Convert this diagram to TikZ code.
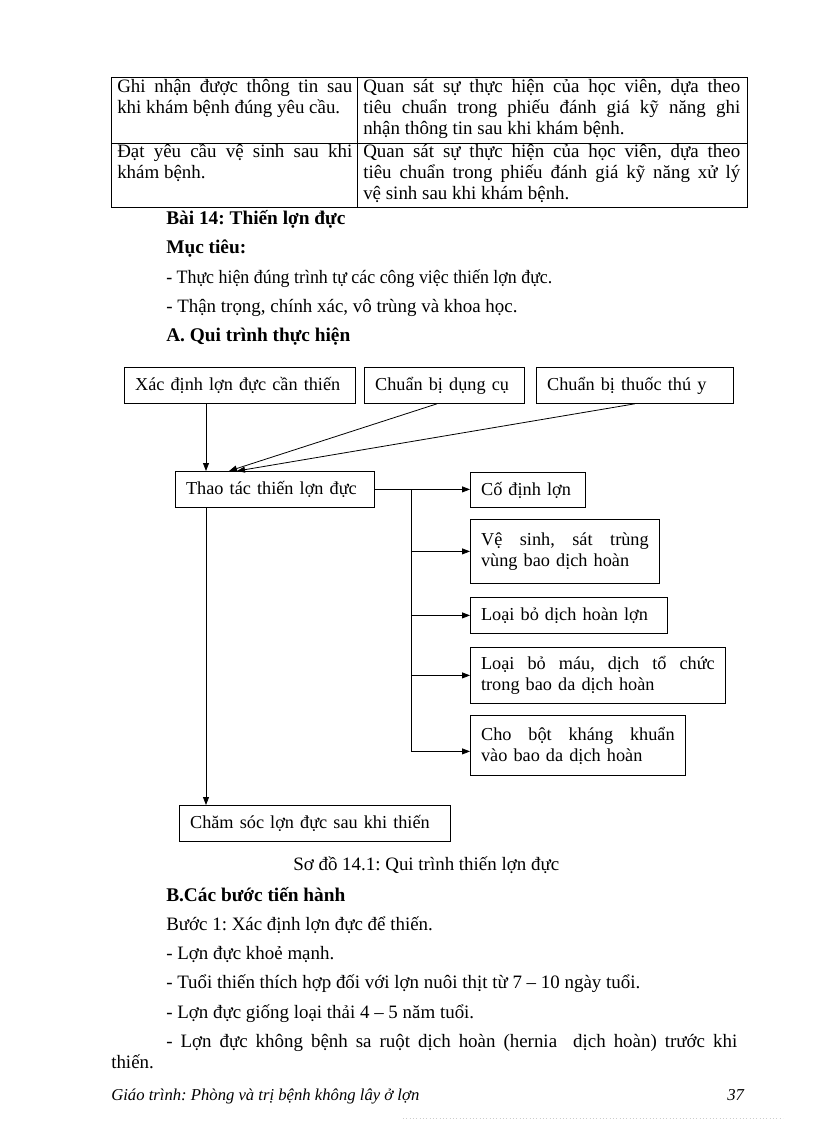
\documentclass[tikz,border=0pt]{standalone}
\usepackage{fontspec}
\setmainfont{Liberation Serif}
\usetikzlibrary{arrows.meta,calc}
\newcommand\bodyfs{\fontsize{14.2}{15.75}\selectfont}
\newcommand\boxfs{\fontsize{13.7}{15.75}\selectfont}
\newcommand\headfs{\fontsize{14.5}{15.75}\selectfont\bfseries}
\newcommand\footfs{\fontsize{12.5}{15}\selectfont\itshape}
\newcommand\jl[2]{\makebox[#1][s]{\spaceskip=\fontdimen2\font plus 1fil\relax\xspaceskip=0pt\relax #2}}
\frenchspacing
\begin{document}
\begin{tikzpicture}[x=0.75pt,y=-0.75pt,
  every node/.style={inner sep=0pt, font=\bodyfs},
  txt/.style={anchor=base west, inner sep=0pt},
  head/.style={txt, font=\headfs},
  box/.style={draw, line width=0.6pt, inner xsep=8pt, inner ysep=0pt, anchor=north west, align=left, font=\boxfs},
  wh/.style 2 args={minimum width=#1*0.75pt, minimum height=#2*0.75pt, text width=#1*0.75pt-16pt},
  arr/.style={-{Triangle[length=6pt,width=4.5pt]}, line width=0.6pt},
  ln/.style={line width=0.6pt}]
\useasboundingbox (0,0) rectangle (816,1123);
% ---------- table ----------
\draw[ln] (111,77) rectangle (747,207);
\draw[ln] (111,143) -- (747,143);
\draw[ln] (357,77) -- (357,207);
\node[txt] (ta1) at (117,93) {\jl{176.25pt}{Ghi nhận được thông tin sau}};
\node[txt] (ta2) at (117,114) {khi khám bệnh đúng yêu cầu.};
\node[txt] (tb1) at (363,93) {\jl{282.75pt}{Quan sát sự thực hiện của học viên, dựa theo}};
\node[txt] (tb2) at (363,114) {\jl{282.75pt}{tiêu chuẩn trong phiếu đánh giá kỹ năng ghi}};
\node[txt] (tb3) at (363,135) {nhận thông tin sau khi khám bệnh.};
\node[txt] (tc1) at (117,158) {\jl{176.25pt}{Đạt yêu cầu vệ sinh sau khi}};
\node[txt] (tc2) at (117,179) {khám bệnh.};
\node[txt] (td1) at (363,158) {\jl{282.75pt}{Quan sát sự thực hiện của học viên, dựa theo}};
\node[txt] (td2) at (363,179) {\jl{282.75pt}{tiêu chuẩn trong phiếu đánh giá kỹ năng xử lý}};
\node[txt] (td3) at (363,200) {vệ sinh sau khi khám bệnh.};
% ---------- headings ----------
\node[head] (h1) at (166,224) {Bài 14: Thiến lợn đực};
\node[head] (h2) at (166,253) {Mục tiêu:};
\node[txt] (p1) at (166,283) {\resizebox{289.5pt}{\height}{- Thực hiện\ đúng trình tự các công việc thiến\ lợn\ đực.}};
\node[txt] (p2) at (166,312) {- Thận trọng, chính xác, vô trùng và khoa học.};
\node[head] (h3) at (166,341) {A. Qui trình thực hiện};
% ---------- diagram ----------
\node[box, wh={231}{36}] (b1) at (124,367) {Xác định lợn đực cần thiến};
\node[box, wh={160}{36}] (b2) at (364,367) {Chuẩn bị dụng cụ};
\node[box, wh={197}{36}] (b3) at (536,367) {Chuẩn bị thuốc thú y};
\node[box, wh={199}{36}] (thao) at (175,471) {Thao tác thiến lợn đực};
\node[box, wh={115}{35}] (cd) at (470,472) {Cố định lợn};
\node[box, wh={189}{64}] (vs) at (470,519) {\jl{125.75pt}{Vệ sinh, sát trùng}\\vùng bao dịch hoàn\\[6pt]};
\node[box, wh={197}{36}] (ld) at (470,597) {Loại bỏ dịch hoàn lợn};
\node[box, wh={255}{56}] (lm) at (470,647) {\jl{175.25pt}{Loại bỏ máu, dịch tổ chức}\\trong bao da dịch hoàn};
\node[box, wh={215}{60}] (cb) at (470,715) {\jl{145.25pt}{Cho bột kháng khuẩn}\\vào bao da dịch hoàn};
\node[box, wh={271}{36}] (care) at (179,805) {Chăm sóc lợn đực sau khi thiến};
% connectors
\coordinate (s1) at ($(b1.south west)+(82,0)$);
\coordinate (s2) at ($(b2.south west)+(73,0)$);
\coordinate (e2) at ($(thao.north west)+(54,0)$);
\coordinate (e3) at ($(thao.north west)+(62,0)$);
\draw[arr] (s1) -- (s1 |- thao.north);
\draw[arr] (s2) -- (e2);
\draw[arr] (b3.south) -- (e3);
\draw[arr] (thao.east) -- (thao.east -| cd.west);
\coordinate (jn) at ($(thao.east)!0.38!(thao.east -| cd.west)$);
\coordinate (cbin) at ($(cb.west)+(0,6)$);
\draw[ln] (jn) -- (jn |- cbin);
\draw[arr] (jn |- vs.west) -- (vs.west);
\draw[arr] (jn |- ld.west) -- (ld.west);
\draw[arr] (jn |- lm.west) -- (lm.west);
\draw[arr] (jn |- cbin) -- (cbin);
\coordinate (s4) at ($(thao.south west)+(31,0)$);
\draw[arr] (s4) -- (s4 |- care.north);
% ---------- caption and text ----------
\node[txt] (cap) at (293,870) {Sơ đồ 14.1: Qui trình thiến lợn đực};
\node[head] (h4) at (166,901) {B.Các bước tiến hành};
\node[txt] (q1) at (166,930) {Bước 1: Xác định lợn đực để thiến.};
\node[txt] (q2) at (166,959) {- Lợn đực khoẻ mạnh.};
\node[txt] (q3) at (166,988) {- Tuổi thiến\ thích hợp đối với lợn nuôi thịt từ 7 – 10 ngày tuổi.};
\node[txt] (q4) at (166,1018) {- Lợn đực giống loại thải 4 – 5 năm tuổi.};
\node[txt] (q5) at (166,1047) {\jl{428.25pt}{- Lợn đực không bệnh sa ruột dịch hoàn (hernia\ \ dịch hoàn) trước khi}};
\node[txt] (q6) at (111,1068) {thiến.};
% ---------- footer ----------
\node[txt, font=\footfs] (f1) at (111,1100) {Giáo trình: Phòng và trị bệnh không lây ở lợn};
\node[txt, font=\footfs] (f2) at (727,1100) {37};
\coordinate (d1) at (403,1118);
\coordinate (d2) at (783,1118);
\draw[gray!40, line width=0.5pt, dotted] (d1) -- (d2);
\end{tikzpicture}
\end{document}
